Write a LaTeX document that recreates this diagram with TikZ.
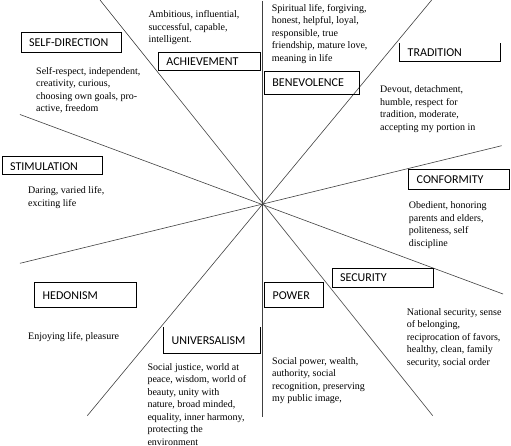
\documentclass[tikz,border=0pt]{standalone}
\usepackage{fontspec}
\setmainfont{Liberation Serif}
\newfontfamily\headfont{Carlito}
\usetikzlibrary{positioning}

\begin{document}
\begin{tikzpicture}[x=1pt, y=-1pt,
  ray/.style={black!75, line width=0.6pt},
  hbox/.style={draw, line width=0.8pt, anchor=north west, align=left, inner xsep=8pt, inner ysep=0pt,
    font=\headfont\fontsize{12}{14}\selectfont},
  val/.style={anchor=north west, align=left, inner sep=0pt, font=\fontsize{10}{12.5}\selectfont}]

\useasboundingbox (0,0) rectangle (511,446);

% rays through the centre
\coordinate (c) at (262.5,204);
\coordinate (v1) at (262.5,1);    \coordinate (v2) at (262.5,417);
\coordinate (a1) at (100,0);      \coordinate (a2) at (432.7,415.7);
\coordinate (b1) at (431.7,0);    \coordinate (b2) at (87.3,415.7);
\coordinate (d1) at (20,263.3);   \coordinate (d2) at (501.7,145.7);
\coordinate (e1) at (20,114.5);   \coordinate (e2) at (503,294);
\draw[ray] (v1) -- (v2);
\draw[ray] (a1) -- (a2);
\draw[ray] (b1) -- (b2);
\draw[ray] (d1) -- (d2);
\draw[ray] (e1) -- (e2);

% --- Self-direction ---
\node[hbox, text width=84pt, minimum height=19.4pt] (sd) at (20.7,32.3) {SELF-DIRECTION};
\node[val] (sdt) at (36,67.2) {Self-respect, independent,\\creativity, curious,\\choosing own goals, pro-\\active, freedom};

% --- Achievement ---
\node[hbox, text width=86pt, minimum height=18pt] (ach) at (158,52) {ACHIEVEMENT};
\node[val] (acht) at (148.3,10.5) {Ambitious, influential,\\successful, capable,\\intelligent.};

% --- Benevolence ---
\node[hbox, text width=79.3pt, minimum height=23.6pt] (ben) at (264,70.7) {BENEVOLENCE};
\node[val] (bent) at (271.7,3.8) {Spiritual life, forgiving,\\honest, helpful, loyal,\\responsible, true\\friendship, mature love,\\meaning in life};

% --- Tradition (open at the top) ---
\node[hbox, draw=none, text width=84pt, minimum height=17.7pt] (trad) at (399.3,43.3) {TRADITION};
\draw[line width=0.8pt] (trad.north west) -- (trad.south west) -- (trad.south east) -- (trad.north east);
\node[val] (tradt) at (380,85.8) {Devout, detachment,\\humble, respect for\\tradition, moderate,\\accepting my portion in};

% --- Stimulation (label cut off by the box) ---
\node[hbox, text width=84.6pt, minimum height=18.6pt] (stim) at (1.7,155.7) {};
\begin{scope}
  \clip (stim.north west) rectangle ([yshift=5.3pt]stim.south east);
  \node[hbox, draw=none, text width=84.6pt, minimum height=18.6pt] (stiml) at (1.7,157) {STIMULATION};
\end{scope}
\node[val] (stimt) at (28,186.5) {Daring, varied life,\\exciting life};

% --- Conformity ---
\node[hbox, text width=85pt, minimum height=19.4pt] (conf) at (408.3,169.3) {CONFORMITY};
\node[val] (conft) at (408.7,201.5) {Obedient, honoring\\parents and elders,\\politeness, self\\discipline};

% --- Security ---
\node[hbox, text width=85pt, minimum height=19.6pt] (sec) at (331.7,267.7) {SECURITY};
\node[val] (sect) at (406.7,308.2) {National security, sense\\of belonging,\\reciprocation of favors,\\healthy, clean, family\\security, social order};

% --- Hedonism ---
\node[hbox, text width=85.4pt, minimum height=25pt] (hed) at (34.3,282.3) {HEDONISM};
\node[val] (hedt) at (28,332.2) {Enjoying life, pleasure};

% --- Power ---
\node[hbox, text width=43pt, minimum height=25pt] (pow) at (264.3,282.3) {POWER};
\node[val] (powt) at (272,357.2) {Social power, wealth,\\authority, social\\recognition, preserving\\my public image,};

% --- Universalism (open at the top) ---
\node[hbox, draw=none, text width=80pt, minimum height=25pt] (univ) at (163.3,327.3) {UNIVERSALISM};
\draw[line width=0.8pt] (univ.north west) -- (univ.south west) -- (univ.south east) -- (univ.north east);
\node[val] (univt) at (147.3,363) {Social justice, world at\\peace, wisdom, world of\\beauty, unity with\\nature, broad minded,\\equality, inner harmony,\\protecting the\\environment};

\end{tikzpicture}
\end{document}
